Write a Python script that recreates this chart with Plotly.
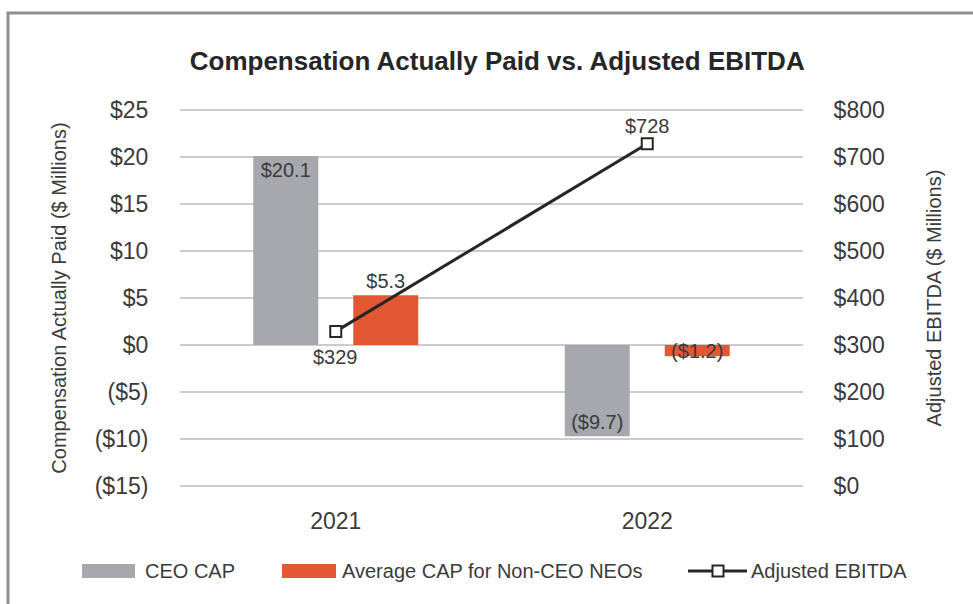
import plotly.graph_objects as go

years = ['2021', '2022']
ceo_cap = [20.1, -9.7]
neo_cap = [5.3, -1.2]
ebitda = [329, 728]

ceo_text = ['$20.1', '($9.7)']
neo_text = ['$5.3', '($1.2)']
ebitda_text = ['$329', '$728']
series_names = ['CEO CAP', 'Average CAP for Non-CEO NEOs', 'Adjusted EBITDA']

left_ticks = [-15, -10, -5, 0, 5, 10, 15, 20, 25]
left_labels = ['($15)', '($10)', '($5)', '$0', '$5', '$10', '$15', '$20', '$25']
right_ticks = [0, 100, 200, 300, 400, 500, 600, 700, 800]
right_labels = ['$0', '$100', '$200', '$300', '$400', '$500', '$600', '$700', '$800']

GRAY = '#a6a8ae'
ORANGE = '#e45733'
LINE = '#262626'
TXT = '#3b3b3b'
FONT = 'Liberation Sans, Arial, sans-serif'

# plot area in pixels (used to place the frame and the hand-made legend)
L, R, T, B = 180, 803, 108, 488


def px(x):
    return (x - L) / (R - L)


def py(y):
    return (B - y) / (B - T)


fig = go.Figure()

fig.add_trace(go.Bar(
    x=years, y=ceo_cap, name=series_names[0], showlegend=False,
    marker=dict(color=GRAY, line=dict(width=0)),
    text=ceo_text, textposition='inside', insidetextanchor='end',
    constraintext='none', textangle=0,
    textfont=dict(size=20, color=TXT, family=FONT),
))
fig.add_trace(go.Bar(
    x=years, y=neo_cap, name=series_names[1], showlegend=False,
    marker=dict(color=ORANGE, line=dict(width=0)),
    text=neo_text, textposition=['outside', 'inside'], insidetextanchor='middle',
    constraintext='none', cliponaxis=False, textangle=0,
    textfont=dict(size=20, color=TXT, family=FONT),
))
fig.add_trace(go.Scatter(
    x=years, y=ebitda, name=series_names[2], yaxis='y2', showlegend=False,
    mode='lines+markers',
    line=dict(color=LINE, width=3),
    marker=dict(symbol='square', size=11, color='white',
                line=dict(color=LINE, width=2)),
    cliponaxis=False,
))

# labels for the line points
shifts = [-26, 18]
for i, (val, txt) in enumerate(zip(ebitda, ebitda_text)):
    fig.add_annotation(x=i, y=val, xref='x', yref='y2', text=txt,
                       showarrow=False, yshift=shifts[i],
                       font=dict(size=20, color=TXT, family=FONT))

# outer frame
fig.add_shape(type='rect', xref='paper', yref='paper',
              x0=px(8), x1=px(1000), y0=py(640), y1=py(13),
              line=dict(color='#8c8e93', width=3), fillcolor='rgba(0,0,0,0)',
              layer='below')

# legend drawn by hand to get the wide swatches
ly = 571
for x0, x1, col, tx, name in [(82, 135, GRAY, 143, series_names[0]),
                              (282, 336, ORANGE, 340, series_names[1])]:
    fig.add_shape(type='rect', xref='paper', yref='paper',
                  x0=px(x0), x1=px(x1), y0=py(ly + 7), y1=py(ly - 7),
                  fillcolor=col, line=dict(width=0))
    fig.add_annotation(xref='paper', yref='paper', x=px(tx), y=py(ly),
                       xanchor='left', yanchor='middle', text=name,
                       showarrow=False, font=dict(size=20, color=TXT, family=FONT))
fig.add_shape(type='line', xref='paper', yref='paper',
              x0=px(688), x1=px(747), y0=py(ly), y1=py(ly),
              line=dict(color=LINE, width=3))
fig.add_shape(type='rect', xref='paper', yref='paper',
              x0=px(712.5), x1=px(723.5), y0=py(ly + 5.5), y1=py(ly - 5.5),
              fillcolor='white', line=dict(color=LINE, width=2))
fig.add_annotation(xref='paper', yref='paper', x=px(749), y=py(ly),
                   xanchor='left', yanchor='middle', text=series_names[2],
                   showarrow=False, font=dict(size=20, color=TXT, family=FONT))

fig.update_layout(
    width=973, height=604,
    margin=dict(l=L, r=973 - R, t=T, b=604 - B, autoexpand=False),
    paper_bgcolor='white', plot_bgcolor='white',
    font=dict(family=FONT, color=TXT),
    title=dict(text='<b>Compensation Actually Paid vs. Adjusted EBITDA</b>',
               x=0.511, xanchor='center', y=0.9, yanchor='middle',
               font=dict(size=26, color=LINE, family=FONT)),
    barmode='group', bargap=0.358, bargroupgap=0.35,
    showlegend=False,
    xaxis=dict(type='category', range=[-0.5, 1.5], showgrid=False,
               showline=False, ticks='outside', ticklen=12, tickcolor='white',
               tickfont=dict(size=23, color=TXT)),
    yaxis=dict(range=[-15.2, 25.2], tickvals=left_ticks, ticktext=left_labels,
               showgrid=True, gridcolor='#c9ccd1', gridwidth=2, zeroline=False,
               showline=False, tickfont=dict(size=23, color=TXT),
               ticks='outside', ticklen=26, tickcolor='white',
               title=dict(text='Compensation Actually Paid ($ Millions)',
                          font=dict(size=20, color=TXT), standoff=22)),
    yaxis2=dict(range=[-4, 804], tickvals=right_ticks, ticktext=right_labels,
                overlaying='y', side='right', showgrid=False, zeroline=False,
                showline=False, tickfont=dict(size=23, color=TXT),
                ticks='outside', ticklen=25, tickcolor='white',
                title=dict(text='Adjusted EBITDA ($ Millions)',
                           font=dict(size=20, color=TXT), standoff=43)),
)

fig.write_html('out.html', config={'displayModeBar': False},
               post_script="document.body.style.margin='0';")
